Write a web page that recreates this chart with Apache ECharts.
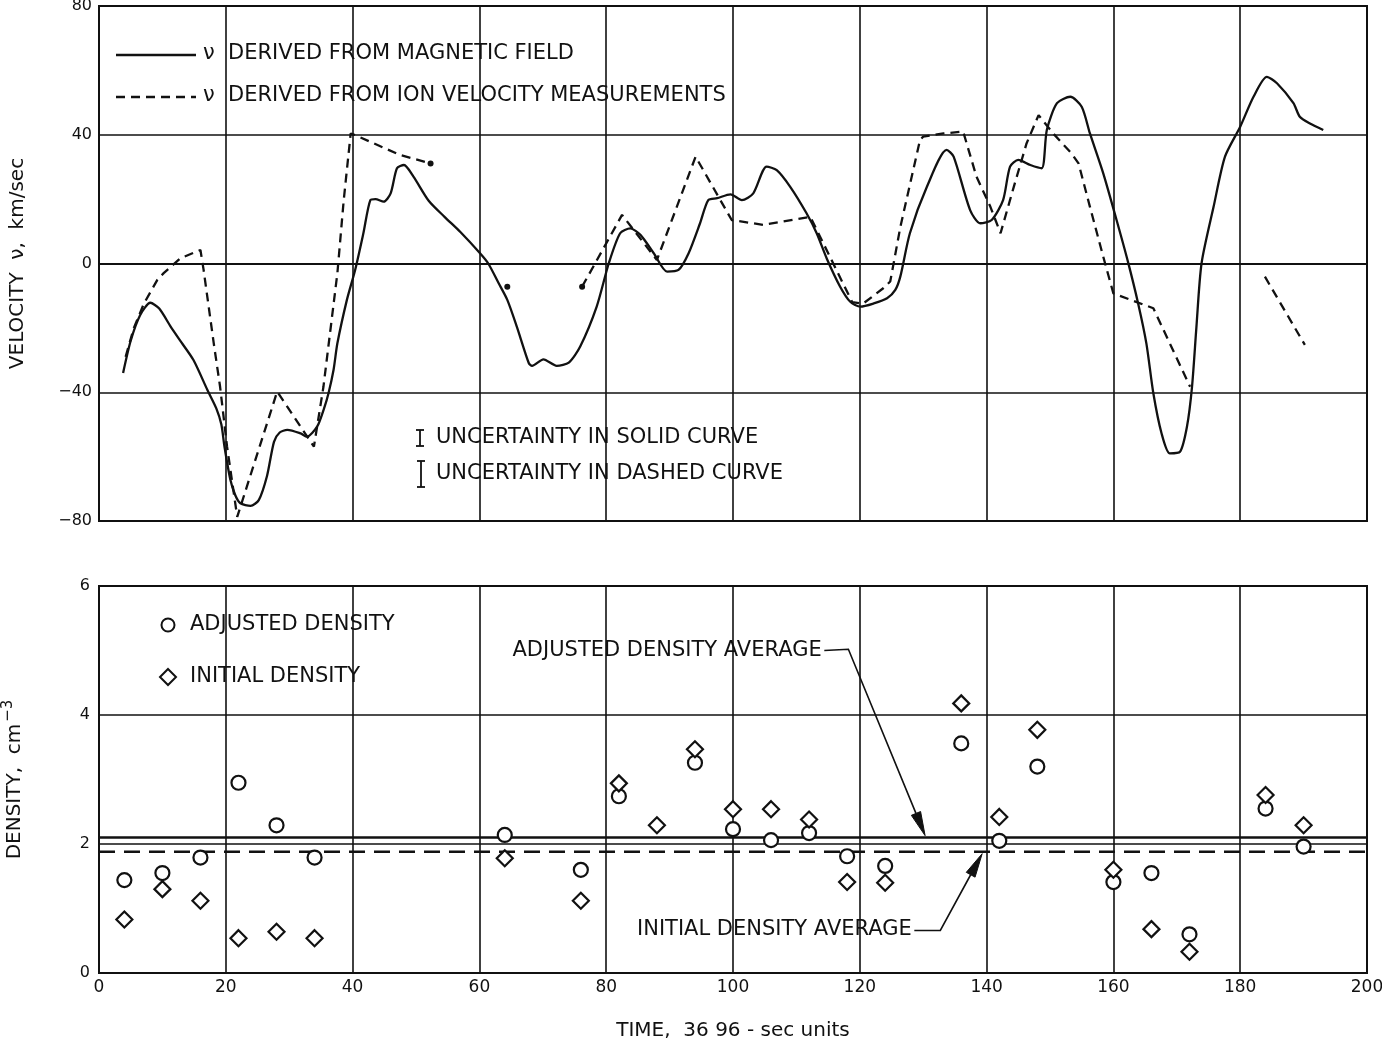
<!DOCTYPE html>
<html>
<head>
<meta charset="utf-8">
<script src="https://cdn.jsdelivr.net/npm/echarts/dist/echarts.min.js"></script>
<style>
  html, body { margin: 0; padding: 0; background: #fff; }
  #chart { width: 1382px; height: 1045px; }
</style>
</head>
<body>
<div id="chart"></div>
<script>
// ---- data: time in 36.96-sec units ----
const velocityTicks = [-80, -40, 0, 40, 80];
const densityTicks = [0, 2, 4, 6];

// velocity v (km/sec) derived from the magnetic field: [time, v]
const magField = [
  [3.8,-34],[5,-24],[6.5,-16],[8.1,-12.2],[9.5,-14],[11.3,-19.6],[13,-24.5],[14.9,-30],
  [17.1,-39.3],[18.5,-45],[19.3,-50],[19.8,-57],[20.7,-67],[21.5,-72],[22.3,-74.5],[23.9,-75.3],
  [25.2,-73.5],[26.5,-66],[27.6,-55.4],[28.5,-52.5],[29.7,-51.7],[31.8,-52.8],[32.8,-53.8],
  [34.4,-50.7],[35.5,-45],[36.2,-40.3],[37,-33],[37.6,-24.8],[39.1,-11.3],[40.4,-2],[41.7,9.4],
  [42.8,19.7],[43.6,20],[44.9,19.2],[46,21.8],[47,29.6],[48.1,30.6],[49.6,27],[52,19.5],
  [54.5,14.5],[57,9.8],[60.1,3.2],[61.4,0],[63,-6],[64.4,-11.3],[65.9,-19.6],[67.8,-31],
  [68.3,-31.8],[70.1,-29.8],[72.2,-31.8],[74.1,-30.8],[75.9,-25.8],[78.5,-13.4],[80.4,0],
  [82.2,9.4],[83.8,10.9],[85.4,8.9],[87.5,3.2],[89.6,-2.5],[91.4,-2],[93,3.2],[94.8,12.5],
  [96.1,19.7],[97.5,20.3],[99.6,21.5],[101.4,19.7],[103.2,21.8],[105.3,30.1],[106.9,29],
  [109,23.9],[111.6,15.6],[113.2,9.4],[114.8,1.5],[116.9,-7.2],[118.5,-11.9],[120.1,-13.4],
  [122.2,-12.4],[124.3,-10.8],[125.6,-8.2],[126.4,-4],[127.9,9.4],[130.6,23.9],[133.7,35.3],
  [134.8,33.2],[137.4,16.6],[139,12.5],[140.8,13.5],[142.6,19.7],[143.7,30.1],[145,32.2],
  [146.9,30.6],[148.7,29.6],[149.5,41.5],[151.1,49.8],[153.2,51.8],[155,48.7],[156.3,40.4],
  [158.4,28],[160.5,13.5],[162.3,0.5],[163.9,-12.4],[165.2,-24.8],[166.3,-40.3],[167.6,-52.8],
  [168.9,-59],[170.5,-58.5],[171.6,-50.7],[172.4,-38.3],[173.1,-19.6],[173.9,0],[175.8,17.6],
  [177.6,33.2],[180,42.5],[182.1,51.8],[184.2,58],[185.8,56],[188.4,49.8],[189.4,45.6],
  [191,43.5],[193.1,41.5]
];

// velocity v (km/sec) derived from ion velocity measurements, in separate pieces
const ionSeg1 = [
  [4.2,-29],[5.5,-20],[7.1,-12.4],[9.2,-5.1],[10.2,-3],[12.8,1.6],[16,4.2],[16.5,-2],
  [18.1,-24.8],[19.1,-38.3],[20.2,-56.9],[21.8,-78.7],[28.1,-39.8],[33.9,-56.9],[35.4,-38.3],
  [37.6,-3],[38.6,19.7],[39.7,40.4],[40.4,39.9],[47.5,33.7],[52.3,31.1]
];
const ionSeg2 = [
  [76.2,-7.2],[82.5,15.1],[88,1.1],[94.1,33.2],[99.8,13.5],[104.8,12],[112.2,14.5],
  [118.8,-12],[120.5,-12.5],[123.7,-7.7],[124.8,-5.6],[126.4,11.4],[129.5,38.4],[130,39.4],
  [133.2,40.4],[136.3,41],[138.4,27],[140.6,17.6],[142.2,9.4],[144.3,23.9],[146.3,37.3],
  [148.2,46.1],[150.5,40.4],[153.4,34.2],[154.5,31.1],[156.3,17.6],[158.4,2.1],[160,-9.3],
  [166.3,-13.9],[166.8,-16],[172.1,-38.3]
];
const ionSeg3 = [[183.9,-4.1],[190.2,-25.3]];
const ionDots = [[52.3,31.1],[64.4,-7.2],[76.2,-7.2]];

// density (cm^-3)
const adjustedT = [4,10,16,22,28,34,64,76,82,94,100,106,112,118,124,136,142,148,160,166,172,184,190];
const adjustedN = [1.44,1.55,1.79,2.95,2.29,1.79,2.14,1.60,2.74,3.26,2.23,2.06,2.17,1.81,1.66,3.56,2.05,3.20,1.41,1.55,0.60,2.55,1.96];
const initialT = [4,10,16,22,28,34,64,76,82,88,94,100,106,112,118,124,136,142,148,160,166,172,184,190];
const initialN = [0.83,1.30,1.12,0.54,0.64,0.54,1.78,1.12,2.94,2.29,3.47,2.54,2.54,2.38,1.41,1.40,4.18,2.42,3.77,1.60,0.68,0.33,2.76,2.29];
const adjustedAverage = 2.1;
const initialAverage = 1.88;

// ---- styling ----
const INK = '#111';
const FONT = 'DejaVu Sans';
const DASH = [9, 6];
const LABEL_SIZE = 21;

const zip = (a, b) => a.map((v, i) => [v, b[i]]);
const minus = v => (v < 0 ? '\u2212' + Math.abs(v) : String(v));

const gridLine = { show: true, lineStyle: { color: INK, width: 1.6 } };
const axisLine = { show: true, lineStyle: { color: INK, width: 2 } };

const chart = echarts.init(document.getElementById('chart'), null, { renderer: 'canvas' });

const option = {
  animation: false,
  backgroundColor: '#fff',
  grid: [
    { left: 99, right: 15, top: 6, height: 515, show: true, borderColor: INK, borderWidth: 2, containLabel: false, outerBoundsMode: 'none' },
    { left: 99, right: 15, top: 586, height: 387, show: true, borderColor: INK, borderWidth: 2, containLabel: false, outerBoundsMode: 'none' }
  ],
  xAxis: [
    { gridIndex: 0, type: 'value', min: 0, max: 200, interval: 20,
      axisLine, axisTick: { show: false }, axisLabel: { show: false }, splitLine: gridLine },
    { gridIndex: 1, type: 'value', min: 0, max: 200, interval: 20,
      axisLine, axisTick: { show: false }, splitLine: gridLine,
      axisLabel: { color: INK, fontFamily: FONT, fontSize: 17, margin: 6, showMinLabel: true, showMaxLabel: true },
      name: 'TIME,  36 96 - sec units', nameLocation: 'middle', nameGap: 48,
      nameTextStyle: { color: INK, fontFamily: FONT, fontSize: 20 } }
  ],
  yAxis: [
    { gridIndex: 0, type: 'value', min: velocityTicks[0], max: velocityTicks[velocityTicks.length - 1], interval: 40,
      axisLine, axisTick: { show: false }, splitLine: gridLine,
      axisLabel: { color: INK, fontFamily: FONT, fontSize: 16, margin: 7, formatter: minus, showMinLabel: true, showMaxLabel: true },
      name: 'VELOCITY  \u03bd,  km/sec', nameLocation: 'middle', nameGap: 71,
      nameTextStyle: { color: INK, fontFamily: FONT, fontSize: 20 } },
    { gridIndex: 1, type: 'value', min: densityTicks[0], max: densityTicks[densityTicks.length - 1], interval: 2,
      axisLine, axisTick: { show: false }, splitLine: gridLine,
      axisLabel: { color: INK, fontFamily: FONT, fontSize: 16, margin: 9, showMinLabel: true, showMaxLabel: true },
      name: '{t|DENSITY,  cm}{s|\u22123}', nameLocation: 'middle', nameGap: 71,
      nameTextStyle: { color: INK, fontFamily: FONT, fontSize: 20,
        rich: { t: { fontFamily: FONT, fontSize: 20, color: INK },
                s: { fontFamily: FONT, fontSize: 15, color: INK, verticalAlign: 'top', padding: [0, 0, 12, 2] } } } }
  ],
  series: [
    { name: 'magnetic', type: 'line', xAxisIndex: 0, yAxisIndex: 0, data: magField,
      showSymbol: false, smooth: 0.25, lineStyle: { color: INK, width: 2.3 }, z: 5 },
    { name: 'ion1', type: 'line', xAxisIndex: 0, yAxisIndex: 0, data: ionSeg1,
      showSymbol: false, lineStyle: { color: INK, width: 2.3, type: DASH }, z: 5 },
    { name: 'ion2', type: 'line', xAxisIndex: 0, yAxisIndex: 0, data: ionSeg2,
      showSymbol: false, lineStyle: { color: INK, width: 2.3, type: DASH }, z: 5 },
    { name: 'ion3', type: 'line', xAxisIndex: 0, yAxisIndex: 0, data: ionSeg3,
      showSymbol: false, lineStyle: { color: INK, width: 2.3, type: DASH }, z: 5 },
    { name: 'ionDots', type: 'scatter', xAxisIndex: 0, yAxisIndex: 0, data: ionDots,
      symbol: 'circle', symbolSize: 6, itemStyle: { color: INK, opacity: 1 }, z: 6 },
    { name: 'adjAvg', type: 'line', xAxisIndex: 1, yAxisIndex: 1,
      data: [[0, adjustedAverage], [200, adjustedAverage]], showSymbol: false,
      lineStyle: { color: INK, width: 2.6 }, z: 4 },
    { name: 'initAvg', type: 'line', xAxisIndex: 1, yAxisIndex: 1,
      data: [[0, initialAverage], [200, initialAverage]], showSymbol: false,
      lineStyle: { color: INK, width: 2.6, type: [16, 9] }, z: 4 },
    { name: 'adjusted', type: 'scatter', xAxisIndex: 1, yAxisIndex: 1, data: zip(adjustedT, adjustedN),
      symbol: 'circle', symbolSize: 14,
      itemStyle: { color: '#fff', borderColor: INK, borderWidth: 2.2, opacity: 1 }, z: 7 },
    { name: 'initial', type: 'scatter', xAxisIndex: 1, yAxisIndex: 1, data: zip(initialT, initialN),
      symbol: 'diamond', symbolSize: 16,
      itemStyle: { color: '#fff', borderColor: INK, borderWidth: 2.2, opacity: 1 }, z: 7 }
  ]
};
chart.setOption(option);

// ---- legends and annotations ----
const txt = (text, x, y, size, align) => ({
  type: 'text', z: 20,
  style: { text, x, y, fill: INK, font: `${size || LABEL_SIZE}px "${FONT}"`, textAlign: align || 'left', textVerticalAlign: 'middle', verticalAlign: 'middle' }
});
const seg = (x1, y1, x2, y2, w, dash) => ({
  type: 'line', z: 20, shape: { x1, y1, x2, y2 },
  style: { stroke: INK, lineWidth: w || 2, lineDash: dash || null }
});
const errGlyph = (x, yTop, yBot) => [
  seg(x, yTop, x, yBot, 1.8), seg(x - 4, yTop, x + 4, yTop, 1.8), seg(x - 4, yBot, x + 4, yBot, 1.8)
];

// leader line from a label to an average line, ending in a filled arrowhead
function leader(points, headLen, headW) {
  const p = points.map(d => chart.convertToPixel({ gridIndex: 1 }, d));
  const tip = p[p.length - 1], prev = p[p.length - 2];
  const dx = tip[0] - prev[0], dy = tip[1] - prev[1];
  const len = Math.hypot(dx, dy), ux = dx / len, uy = dy / len;
  const bx = tip[0] - ux * headLen, by = tip[1] - uy * headLen;
  const nx = -uy * headW / 2, ny = ux * headW / 2;
  const line = p.slice(0, -1).concat([[bx, by]]);
  return [
    { type: 'polyline', z: 20, shape: { points: line }, style: { stroke: INK, lineWidth: 1.6, fill: null } },
    { type: 'polygon', z: 20, shape: { points: [tip, [bx + nx, by + ny], [bx - nx, by - ny]] }, style: { fill: INK, stroke: INK, lineWidth: 1 } }
  ];
}
const at = d => chart.convertToPixel({ gridIndex: 1 }, d);

const adjLabel = at([114.0, 5.0]);
const initLabel = at([128.2, 0.68]);

const graphics = [
  // velocity legend
  seg(116, 55, 196, 55, 2.3),
  txt('\u03bd  DERIVED FROM MAGNETIC FIELD', 203, 54),
  seg(116, 97, 196, 97, 2.3, DASH),
  txt('\u03bd  DERIVED FROM ION VELOCITY MEASUREMENTS', 203, 96),
  // uncertainty note
  ...errGlyph(420, 430, 446),
  txt('UNCERTAINTY IN SOLID CURVE', 436, 438),
  ...errGlyph(421, 461, 487),
  txt('UNCERTAINTY IN DASHED CURVE', 436, 474),
  // density legend
  { type: 'circle', z: 20, shape: { cx: 168, cy: 625, r: 6.5 }, style: { fill: '#fff', stroke: INK, lineWidth: 2 } },
  txt('ADJUSTED DENSITY', 190, 625),
  { type: 'polygon', z: 20, shape: { points: [[168, 669], [176, 677], [168, 685], [160, 677]] }, style: { fill: '#fff', stroke: INK, lineWidth: 2 } },
  txt('INITIAL DENSITY', 190, 677),
  // average annotations
  txt('ADJUSTED DENSITY AVERAGE', adjLabel[0], adjLabel[1], LABEL_SIZE, 'right'),
  ...leader([[114.4, 5.0], [118.2, 5.02], [130.3, adjustedAverage + 0.03]], 24, 10),
  txt('INITIAL DENSITY AVERAGE', initLabel[0], initLabel[1], LABEL_SIZE, 'right'),
  ...leader([[128.6, 0.66], [132.7, 0.66], [139.3, initialAverage - 0.03]], 24, 10)
];
chart.setOption({ graphic: graphics });
</script>
</body>
</html>
